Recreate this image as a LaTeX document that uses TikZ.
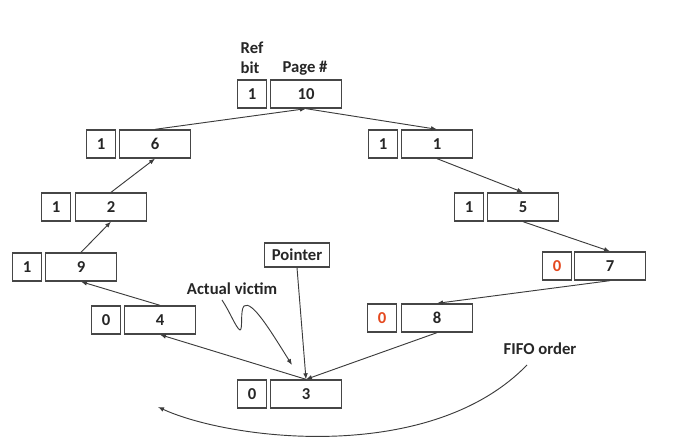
\documentclass[tikz,border=0pt]{standalone}
\usepackage{fontspec}
\setmainfont{Carlito}
\usepackage{xcolor}
\usepackage{tikz}
\usetikzlibrary{arrows.meta,positioning,calc}

\definecolor{boxline}{RGB}{70,70,70}
\definecolor{zerored}{RGB}{228,72,30}
\definecolor{linkgray}{RGB}{60,60,60}

\begin{document}
\begin{tikzpicture}[x=0.75pt,y=-0.75pt,>={Latex[length=4.5pt,width=3.5pt]},
  every node/.style={font=\fontsize{12.5}{14}\selectfont\bfseries,text=black!85},
  refbox/.style={draw=boxline,line width=1pt,minimum width=22pt,minimum height=21pt,inner sep=0pt},
  pagebox/.style={draw=boxline,line width=1pt,minimum width=53pt,minimum height=21pt,inner sep=0pt},
  link/.style={->,draw=linkgray,line width=0.7pt}]
  \useasboundingbox (0,0) rectangle (683,448);
  % header
  \node (hRef) at (252,48) {Ref};
  \node (hBit) at (250,68) {bit};
  \node (hPage) at (305,68) {Page \#};
  % ring of frames
  \node[refbox] (r10) at (252,94) {1};   \node[pagebox] (p10) at (306,94) {10};
  \node[refbox] (r6) at (101,144) {1};   \node[pagebox] (p6) at (155,144) {6};
  \node[refbox] (r2) at (56,207) {1};    \node[pagebox] (p2) at (111,207) {2};
  \node[refbox] (r9) at (27,267) {1};    \node[pagebox] (p9) at (81,267) {9};
  \node[refbox] (r4) at (106,320) {0};   \node[pagebox] (p4) at (160,320) {4};
  \node[refbox] (r3) at (252,394) {0};   \node[pagebox] (p3) at (306,394) {3};
  \node[refbox] (r1) at (383,144) {1};   \node[pagebox] (p1) at (437,144) {1};
  \node[refbox] (r5) at (469,207) {1};   \node[pagebox] (p5) at (523,207) {5};
  \node[refbox,text=zerored] (r7) at (557,266) {0}; \node[pagebox] (p7) at (610,266) {7};
  \node[refbox,text=zerored] (r8) at (382,318) {0}; \node[pagebox] (p8) at (437,318) {8};
  % links
  \draw[link] (p3.north) -- (p4.south);
  \draw[link] (p4.north) -- (p9.south);
  \draw[link] (p9.north) -- (p2.south);
  \draw[link] (p2.north) -- (p6.south);
  \draw[link] (p6.north) -- (p10.south);
  \draw[link] (p10.south) -- (p1.north);
  \draw[link] (p1.south) -- (p5.north);
  \draw[link] (p5.south) -- (p7.north);
  \draw[link] (p7.south) -- (p8.north);
  \draw[link] (p8.south) -- (p3.north);
  % pointer
  \node[draw=boxline,line width=1pt,minimum width=49pt,minimum height=18pt,inner sep=0pt] (ptr) at (297,255) {Pointer};
  \draw[link] (ptr.south) -- (p3.north);
  % victim
  \node (victim) at (232,289) {Actual victim};
  \coordinate (victimTail) at (222,300);
  \coordinate (victimTip) at (292,365);
  \draw[link] (victimTail) .. controls (230,312) and (236,328) .. (240,330)
    .. controls (243,330) and (240,310) .. (244,306)
    .. controls (252,300) and (270,330) .. (victimTip);
  % fifo
  \node (fifo) at (540,349) {FIFO order};
  \coordinate (fifoA) at (527,365);
  \coordinate (fifoB) at (158,407);
  \draw[link] (fifoA) .. controls (430,465) and (230,440) .. (fifoB);
\end{tikzpicture}
\end{document}
